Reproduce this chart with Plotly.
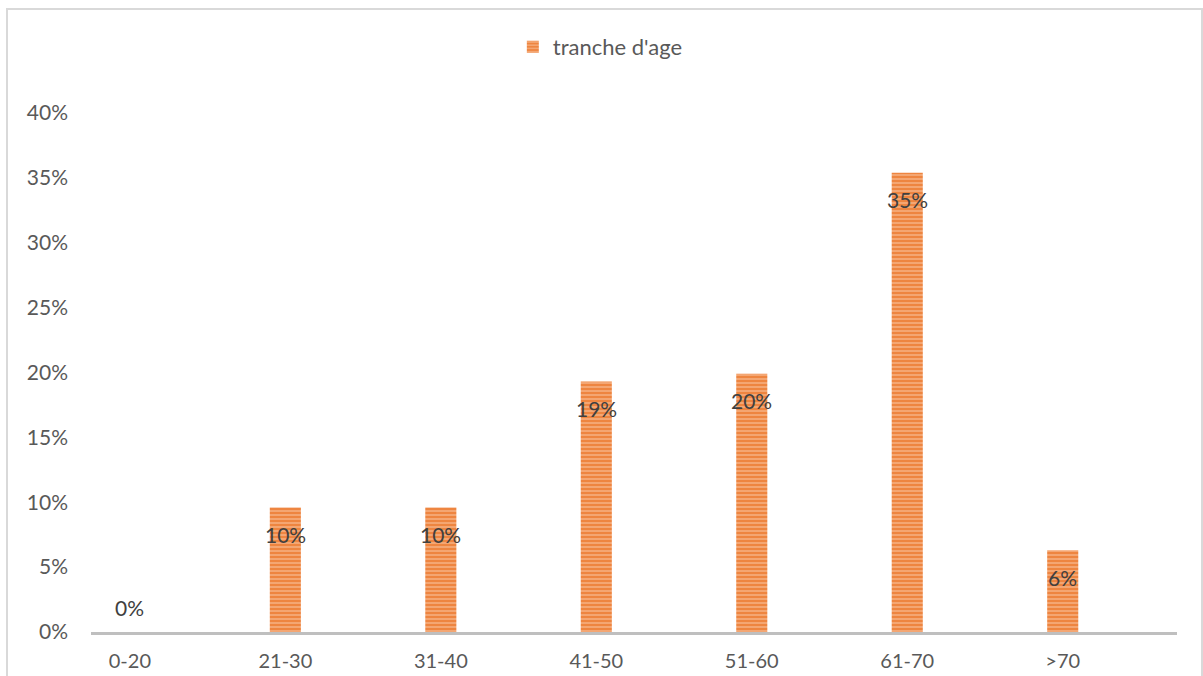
import plotly.graph_objects as go

categories = ["0-20", "21-30", "31-40", "41-50", "51-60", "61-70", ">70"]
shares = [0.0, 0.096, 0.096, 0.193, 0.199, 0.354, 0.063]
series_name = "tranche d'age"
y_ticks = [0, 0.05, 0.10, 0.15, 0.20, 0.25, 0.30, 0.35, 0.40]

FONT = "Lato, Calibri, Carlito, sans-serif"
TEXT = "#595959"

fig = go.Figure()
fig.add_trace(go.Bar(
    x=categories,
    y=shares,
    name=series_name,
    width=0.2,
    marker=dict(
        color="#EE8540",
        line=dict(width=0),
        pattern=dict(shape="-", bgcolor="#EE8540", fgcolor="#F8BC94",
                     size=4, solidity=0.3, fillmode="replace"),
    ),
    showlegend=True,
))

# value labels just inside the top of each bar (above the axis for zero)
for cat, val in zip(categories, shares):
    fig.add_annotation(
        x=cat, y=val, xref="x", yref="y",
        text=f"{val:.0%}", showarrow=False,
        yshift=(-27 if val > 0 else 25),
        font=dict(family=FONT, size=21, color="#404040"),
    )

# light chart border
fig.add_shape(type="rect", xref="paper", yref="paper",
              x0=-84 / 1086, x1=1111 / 1086, y0=-0.2, y1=(632 - 9) / 519,
              line=dict(color="#D9D9D9", width=2), fillcolor="rgba(0,0,0,0)",
              layer="below")

fig.update_layout(
    width=1203, height=676,
    margin=dict(l=91, r=26, t=113, b=44, autoexpand=False),
    paper_bgcolor="white", plot_bgcolor="white",
    font=dict(family=FONT, size=21, color=TEXT),
    bargap=0.8,
    legend=dict(orientation="h", x=0.469, xanchor="center",
                yref="container", y=1 - 47 / 676, yanchor="middle",
                font=dict(family=FONT, size=22, color=TEXT),
                itemwidth=30),
    xaxis=dict(range=[-0.25, 6.735], showgrid=False, showline=True,
               linecolor="#BFBFBF", linewidth=3, automargin=False,
               ticks="", tickfont=dict(family=FONT, size=20, color=TEXT),
               ticklabelstandoff=9),
    yaxis=dict(range=[0, 0.40], tickvals=y_ticks, tickformat=".0%",
               showgrid=False, showline=False, zeroline=False, ticks="",
               automargin=False,
               tickfont=dict(family=FONT, size=21, color=TEXT),
               ticklabelstandoff=22),
)

fig.write_html("out.html")
